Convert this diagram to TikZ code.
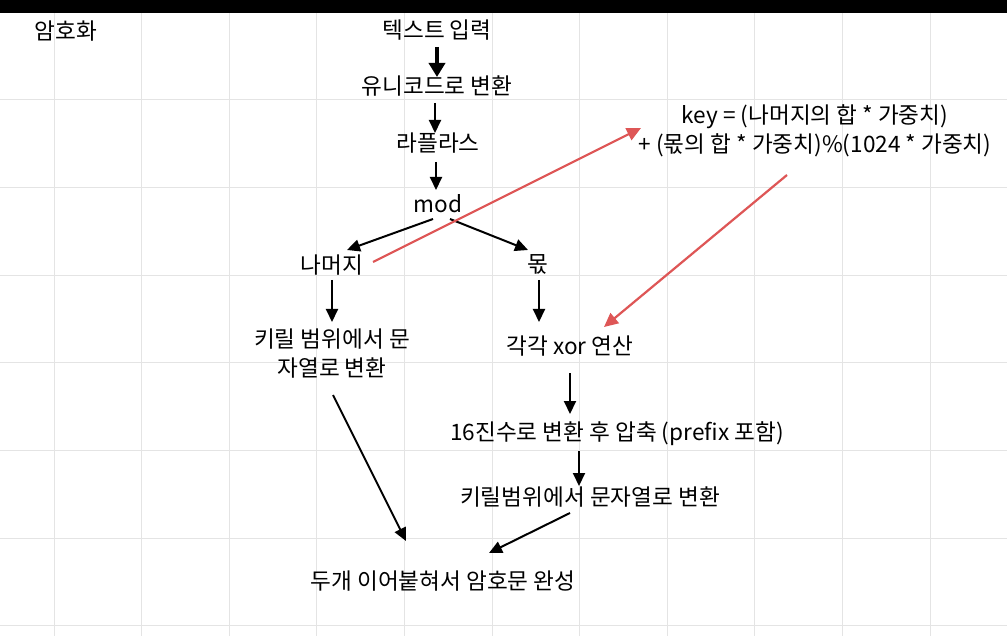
\documentclass[tikz,border=0pt]{standalone}
\usepackage{fontspec}
\setmainfont{Noto Sans CJK KR}
\usetikzlibrary{arrows.meta,calc}
\definecolor{gridgray}{RGB}{228,228,228}
\definecolor{redarr}{RGB}{222,86,86}
\tikzset{
  lbl/.style={font=\fontsize{22.6}{29}\selectfont, inner sep=0pt, align=center},
  gridline/.style={draw=gridgray, line width=1pt},
  arr/.style={draw=black, line width=2pt, -{Triangle[length=13pt,width=12pt]}},
  bigarr/.style={draw=black, line width=3.5pt, -{Triangle[length=14pt,width=16pt]}},
  redarrow/.style={draw=redarr, line width=2.2pt, -{Triangle[length=14pt,width=13pt]}}
}
\begin{document}
\begin{tikzpicture}[x=1pt,y=-1pt]
\useasboundingbox (0,0) rectangle (1007,636);
\fill[white] (0,0) rectangle (1007,636);
\foreach \i in {0,...,11}{
  \pgfmathsetmacro\gx{54+87.6*\i}
  \draw[gridline] (\gx,13) -- (\gx,636);
}
\foreach \i in {0,...,6}{
  \pgfmathsetmacro\gy{100+87.6*\i}
  \draw[gridline] (0,\gy) -- (1007,\gy);
}
\fill[black] (0,0) rectangle (1007,13);

\node[lbl] (title) at (66,31) {암호화};
\node[lbl] (t1) at (437,30) {텍스트 입력};
\node[lbl] (t2) at (437,86) {유니코드로 변환};
\node[lbl] (t3) at (438,143) {라플라스};
\node[lbl] (mod) at (438,204) {mod};
\node[lbl] (nam) at (332,265) {나머지};
\node[lbl] (mok) at (538,264) {몫};
\node[lbl] (kir) at (332,354) {키릴 범위에서 문\\자열로 변환};
\node[lbl] (xor) at (570,346) {각각 xor 연산};
\node[lbl] (hex) at (617,434) {16진수로 변환 후 압축 (prefix 포함)};
\node[lbl] (kir2) at (590,497) {키릴범위에서 문자열로 변환};
\node[lbl] (fin) at (443,581) {두개 이어붙혀서 암호문 완성};
\node[lbl] (key) at (815,131) {key = (나머지의 합 * 가중치)\\+ (몫의 합 * 가중치)\%(1024 * 가중치)};

\draw[bigarr] ($(t1)+(0,17)$) -- ($(t2)+(0,-9)$);
\draw[arr] ($(t2)+(-2,17)$) -- ($(t3)+(-3,-10)$);
\draw[arr] ($(t3)+(-2,19)$) -- ($(mod)+(-2,-14)$);
\draw[arr] ($(mod)+(-5,15)$) -- ($(nam)+(15,-15)$);
\draw[arr] ($(mod)+(12,15)$) -- ($(mok)+(-10,-14)$);
\draw[arr] ($(nam)+(0,15)$) -- ($(kir)+(0,-32)$);
\draw[arr] ($(mok)+(1,16)$) -- ($(xor)+(-31,-24)$);
\draw[arr] ($(xor)+(0,27)$) -- ($(hex)+(-47,-20)$);
\draw[arr] ($(hex)+(-38,17)$) -- ($(kir2)+(-11,-11)$);
\draw[arr] ($(kir)+(1,41)$) -- ($(fin)+(-37,-40)$);
\draw[arr] ($(kir2)+(-20,16)$) -- ($(fin)+(46,-28)$);
\draw[redarrow] ($(nam)+(41,-3)$) -- ($(key)+(-174,-3)$);
\draw[redarrow] ($(key)+(-28,44)$) -- ($(xor)+(34,-19)$);
\end{tikzpicture}
\end{document}
